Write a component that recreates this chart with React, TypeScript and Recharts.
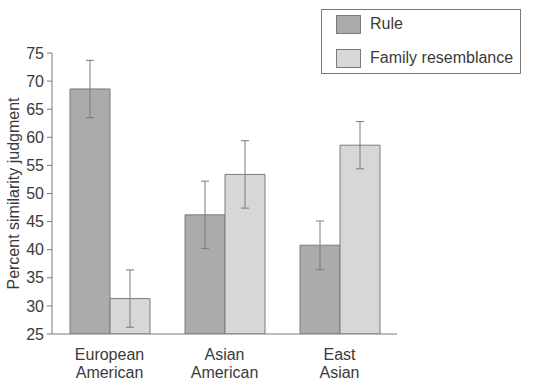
import React from 'react'
import { BarChart, Bar, XAxis, YAxis, ErrorBar, Label } from 'recharts'

const categories = ['European American', 'Asian American', 'East Asian']
const ruleValues = [68.6, 46.2, 40.8]
const ruleErrors = [5.1, 6.0, 4.3]
const familyValues = [31.3, 53.4, 58.6]
const familyErrors = [5.1, 6.0, 4.2]
const yTicks = [25, 30, 35, 40, 45, 50, 55, 60, 65, 70, 75]
const seriesNames = ['Rule', 'Family resemblance']

const RULE_FILL = '#ababab'
const FAMILY_FILL = '#d7d7d7'
const EDGE = '#7a7a7a'
const TEXT = '#3a3a3a'
const FONT = '"Liberation Sans", Arial, Helvetica, sans-serif'

const data = categories.map((name, i) => ({
  name,
  rule: ruleValues[i],
  ruleErr: ruleErrors[i],
  family: familyValues[i],
  familyErr: familyErrors[i],
}))

const CategoryTick = (props: any) => {
  const { x, y, payload } = props
  const words = String(payload.value).split(' ')
  return (
    <g transform={`translate(${x},${y})`}>
      {words.map((w, i) => (
        <text key={i} x={0} y={18 + i * 18} textAnchor="middle" fill={TEXT} fontSize={16} fontFamily={FONT}>
          {w}
        </text>
      ))}
    </g>
  )
}

// legend drawn as a box over the chart, top right
const LegendBox = () => {
  const fills = [RULE_FILL, FAMILY_FILL]
  return (
    <div
      style={{
        position: 'absolute', left: 321, top: 9, width: 200, height: 65,
        border: `1px solid ${EDGE}`, background: '#fff', boxSizing: 'border-box', fontFamily: FONT,
      }}
    >
      {seriesNames.map((label, i) => (
        <div key={i} style={{ position: 'absolute', left: 14, top: 4 + i * 34, display: 'flex', alignItems: 'center', height: 20 }}>
          <span style={{ display: 'inline-block', width: 25, height: 19, background: fills[i], border: `1px solid ${EDGE}`, boxSizing: 'border-box' }} />
          <span style={{ marginLeft: 9, fontSize: 16, color: TEXT, whiteSpace: 'nowrap' }}>{label}</span>
        </div>
      ))}
    </div>
  )
}

export default function App() {
  return (
    <div style={{ position: 'absolute', left: 0, top: 0, width: 537, height: 381, background: '#fff' }}>
      <BarChart
        width={537}
        height={381}
        data={data}
        margin={{ top: 53, right: 140, bottom: 0, left: 0 }}
        barCategoryGap={18}
        barGap={0}
      >
        <XAxis
          dataKey="name"
          height={47}
          stroke={EDGE}
          tickLine={false}
          tick={<CategoryTick />}
          interval={0}
        />
        <YAxis
          width={52}
          domain={[25, 75]}
          ticks={yTicks}
          allowDataOverflow
          stroke={EDGE}
          tickSize={5}
          tickMargin={3}
          tick={{ fill: TEXT, fontSize: 16, fontFamily: FONT }}
        >
          <Label
            value="Percent similarity judgment"
            angle={-90}
            position="insideLeft"
            offset={13}
            style={{ textAnchor: 'middle', fill: TEXT, fontSize: 16, fontFamily: FONT }}
          />
        </YAxis>
        <Bar dataKey="rule" name={seriesNames[0]} fill={RULE_FILL} stroke={EDGE} strokeWidth={1} isAnimationActive={false}>
          <ErrorBar dataKey="ruleErr" width={4} stroke={EDGE} strokeWidth={1} />
        </Bar>
        <Bar dataKey="family" name={seriesNames[1]} fill={FAMILY_FILL} stroke={EDGE} strokeWidth={1} isAnimationActive={false}>
          <ErrorBar dataKey="familyErr" width={4} stroke={EDGE} strokeWidth={1} />
        </Bar>
      </BarChart>
      <LegendBox />
    </div>
  )
}
